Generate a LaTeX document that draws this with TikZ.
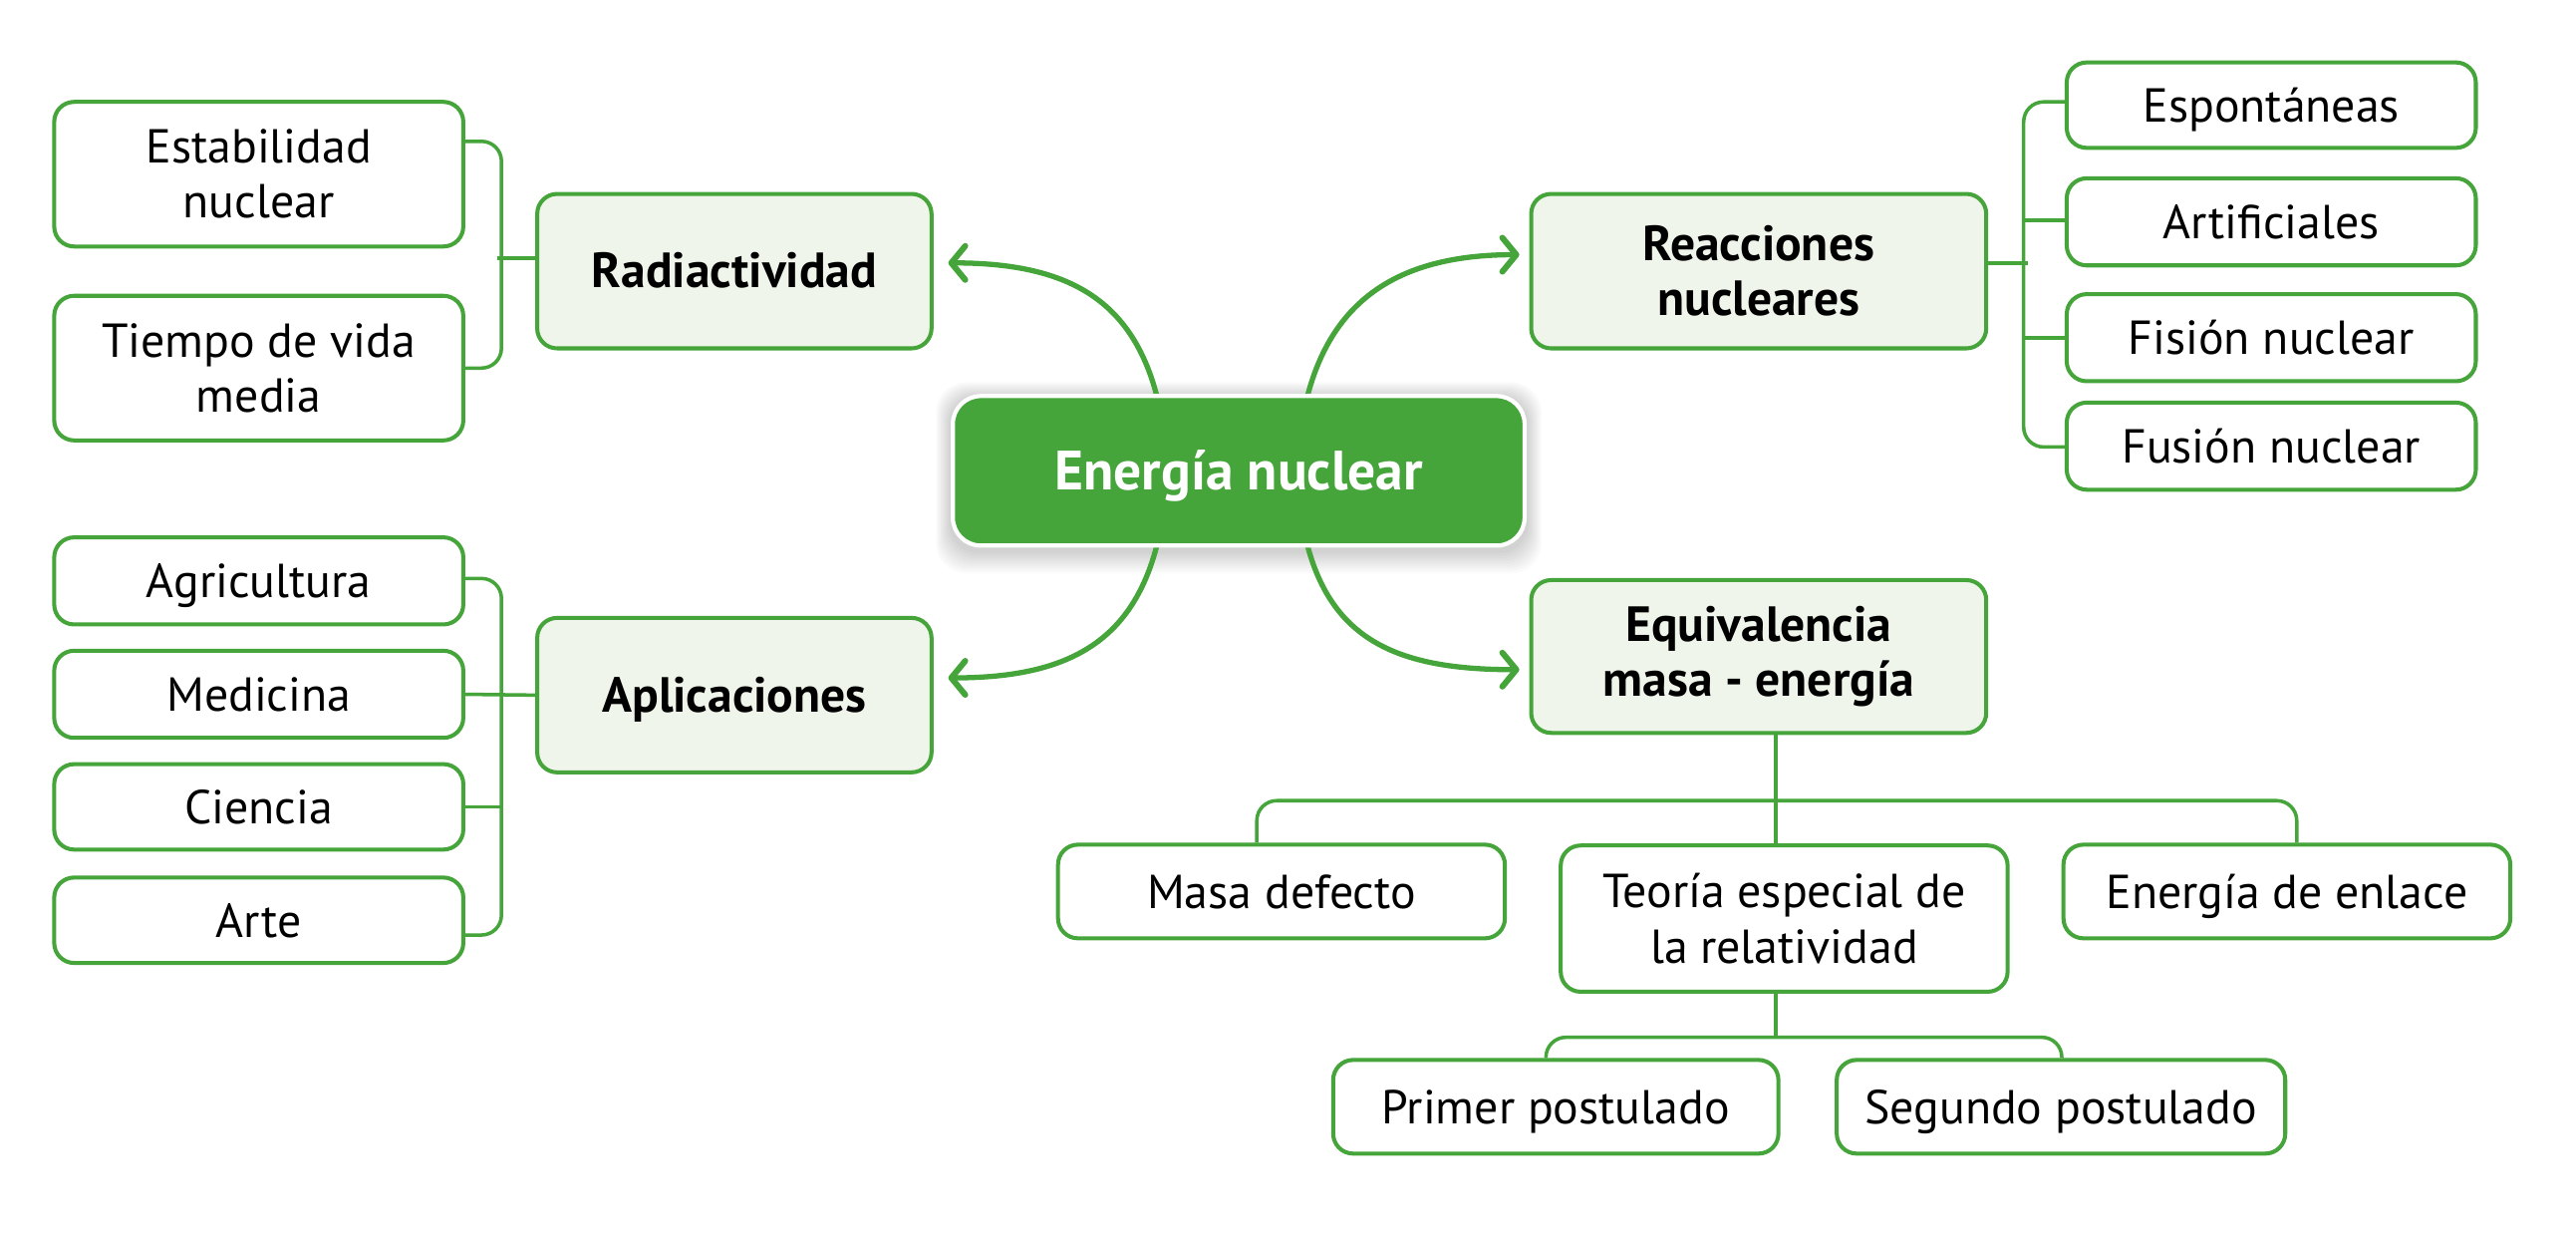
\documentclass[tikz,border=0pt]{standalone}
\usepackage{fontspec}
\setmainfont{PT Sans}
\usetikzlibrary{arrows.meta,backgrounds,calc}
\newdimen\mpu \mpu=0.016486cm
\definecolor{gr}{HTML}{45A53A}
\definecolor{lgr}{HTML}{EFF5EA}
\pgfdeclarelayer{paper}
\pgfsetlayers{paper,background,main}
\tikzset{
 bx/.style 2 args={draw=gr, line width=1.15pt, rounded corners=0.2cm,
   minimum width=#1*\mpu, minimum height=#2*\mpu, inner sep=0pt, align=center,
   text=black, font=\fontsize{13.6}{15.7}\selectfont},
 leaf/.style 2 args={bx={#1}{#2}, fill=white},
 mid/.style 2 args={bx={#1}{#2}, fill=lgr, font=\fontsize{14.1}{15.7}\selectfont\bfseries},
 one/.style={text height=9.6pt, text depth=0pt},
 hub/.style={fill=gr, draw=white, line width=1.2pt, rounded corners=0.28cm,
   minimum width=348*\mpu, minimum height=91*\mpu, inner sep=0pt,
   text height=11pt, text depth=0pt,
   text=white, font=\fontsize{15.8}{18}\selectfont\bfseries},
 arr/.style={draw=gr, line width=1.5pt, line cap=round,
   -{Straight Barb[length=0.14cm, width=0.34cm, round, line width=1.7pt]}},
 brk/.style={draw=gr, line width=1pt, rounded corners=0.2cm},
}
\begin{document}
\begin{tikzpicture}[x=0.016486cm, y=-0.016486cm]
\begin{pgfonlayer}{paper}
\fill[white] (0,0) rectangle (1568,753);
\end{pgfonlayer}
\useasboundingbox (0,0) rectangle (1568,753);

% center
\node[hub] (ctr) at (754,286.5) {Energía nuclear};

% left top
\node[mid={240}{94}, one] (radi) at (447,165) {Radiactividad};
\node[leaf={249}{88}] (esta) at (157.5,106) {Estabilidad\\nuclear};
\node[leaf={249}{88}] (tvm) at (157.5,224) {Tiempo de vida\\media};

% left bottom
\node[mid={240}{94}, one] (apli) at (447,423) {Aplicaciones};
\node[leaf={249}{53}, one] (agri) at (157.5,353.5) {Agricultura};
\node[leaf={249}{53}, one] (medi) at (157.5,422.5) {Medicina};
\node[leaf={249}{52}, one] (cien) at (157.5,491) {Ciencia};
\node[leaf={249}{52}, one] (arte) at (157.5,560) {Arte};

% right top
\node[mid={277}{94}] (reac) at (1070.5,165) {Reacciones\\nucleares};
\node[leaf={249}{52}, one] (espo) at (1382.5,64) {Espontáneas};
\node[leaf={249}{53}, one] (arti) at (1382.5,135) {Artificiales};
\node[leaf={249}{53}, one] (fisi) at (1382.5,205.5) {Fisión nuclear};
\node[leaf={249}{53}, one] (fusi) at (1382.5,271.5) {Fusión nuclear};

% right bottom
\node[mid={277}{93}] (equi) at (1070.5,399.5) {Equivalencia\\masa - energía};
\node[leaf={272}{57}, one] (masa) at (780,542.5) {Masa defecto};
\node[leaf={272}{89}] (teor) at (1086,559) {Teoría especial de\\la relatividad};
\node[leaf={272}{57}, one] (enla) at (1392,542.5) {Energía de enlace};
\node[leaf={271}{57}, one] (prim) at (947,673.5) {Primer postulado};
\node[leaf={273}{57}, one] (segu) at (1254.5,673.5) {Segundo postulado};

\coordinate (b1l) at (765,0);
\coordinate (b1r) at (1398,0);
\coordinate (b2l) at (941,0);
\coordinate (b2r) at (1255,0);

\begin{pgfonlayer}{background}
% soft halo behind the center node
\foreach \i in {1,...,9}{
  \fill[black, opacity=0.02, rounded corners=0.3cm]
    ($(ctr.south west)+(-\i,1.5*\i+2)$) rectangle ($(ctr.north east)+(\i,-\i+2)$);
}
% curved arrows
\draw[arr] ($(ctr.north)+(-48,9)$) .. controls +(-14,-65) and +(75,0) .. ($(radi.east)+(9,-5)$);
\draw[arr] ($(ctr.north)+(40,9)$) .. controls +(14,-65) and +(-75,0) .. ($(reac.west)+(-6,-10)$);
\draw[arr] ($(ctr.south)+(-48,-9)$) .. controls +(-14,65) and +(75,0) .. ($(apli.east)+(9,-10.5)$);
\draw[arr] ($(ctr.south)+(40,-9)$) .. controls +(14,65) and +(-75,0) .. ($(equi.west)+(-6,8)$);

% left top bracket
\draw[brk] ($(esta.east)+(0,-20)$) -| ($(tvm.east)+(22,0)$) -- (tvm.east);
\draw[brk] ($(radi.west)+(0,-8)$) -- ++(-23,0);

% left bottom bracket
\draw[brk] ($(agri.east)+(0,-1.5)$) -| ($(arte.east)+(22,9)$) -- ($(arte.east)+(0,9)$);
\draw[brk] (medi.east) -- (apli.west);
\draw[brk] (cien.east) -- ++(22,0);

% right bracket
\draw[brk] ($(espo.west)+(0,-2)$) -| ($(fusi.west)+(-25,0.5)$) -- ($(fusi.west)+(0,0.5)$);
\draw[brk] ($(reac.east)+(0,-5)$) -- ++(24,0);
\draw[brk] ($(arti.west)+(0,-1)$) -- ++(-25,0);
\draw[brk] (fisi.west) -- ++(-25,0);

% bottom tree
\coordinate (bus1) at ($(equi.south)+(10.5,40)$);
\draw[brk] ($(equi.south)+(10.5,0)$) -- ($(teor.north)+(-5,0)$);
\draw[brk] (masa.north -| b1l) |- (bus1) -| (enla.north -| b1r);
\coordinate (bus2) at ($(teor.south)+(-5,26.5)$);
\draw[brk] ($(teor.south)+(-5,0)$) -- (bus2);
\draw[brk] (prim.north -| b2l) |- (bus2) -| (segu.north -| b2r);
\end{pgfonlayer}
\end{tikzpicture}
\end{document}
